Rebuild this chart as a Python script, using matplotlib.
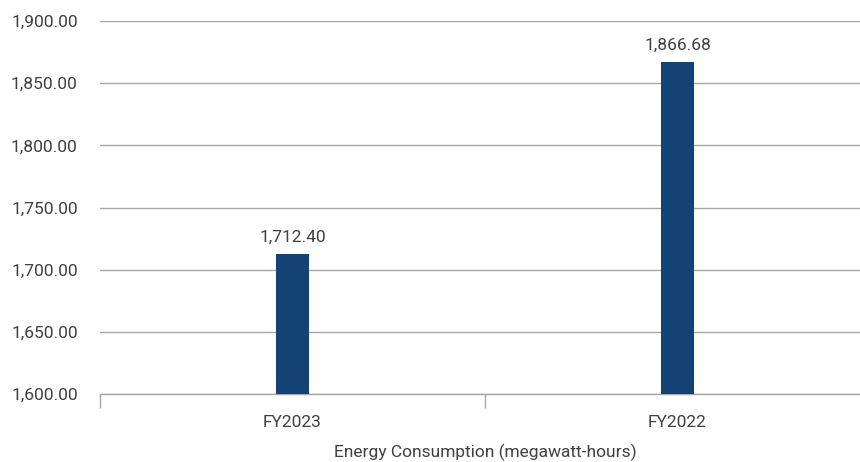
import matplotlib
matplotlib.use("Agg")
import matplotlib.pyplot as plt

categories = ["FY2023", "FY2022"]
energy_mwh = [1712.40, 1866.68]
y_ticks = [1600, 1650, 1700, 1750, 1800, 1850, 1900]

plt.rcParams["font.family"] = ["Roboto", "DejaVu Sans"]
text_color = "#404040"
grid_color = "#a6a6a6"
bar_color = "#134375"

fig = plt.figure(figsize=(8.6, 4.62), dpi=100)
ax = fig.add_axes([100 / 860, 68 / 462, 770 / 860, 373 / 462])

x = list(range(len(categories)))
bars = ax.bar(x, energy_mwh, width=0.086, color=bar_color, zorder=3)

for xi, v in zip(x, energy_mwh):
    ax.annotate("{:,.2f}".format(v), (xi, v), xytext=(0, 7), textcoords="offset points",
                ha="center", va="bottom", fontsize=12.5, color=text_color)

ax.set_xlim(-0.5, len(categories) - 0.5)
ax.set_ylim(1600, 1900)
ax.set_yticks(y_ticks)
ax.set_yticklabels(["{:,.2f}".format(t) for t in y_ticks])
ax.yaxis.grid(True, color=grid_color, linewidth=1.0, zorder=0)
ax.tick_params(axis="y", length=0, pad=16, labelsize=12.5, labelcolor=text_color)

# category ticks sit on the boundaries
ax.set_xticks([-0.5, 0.5], minor=False)
ax.set_xticklabels(["", ""])
ax.set_xticks(x, minor=True)
ax.set_xticklabels(categories, minor=True)
ax.tick_params(axis="x", which="major", length=10, width=1, color=grid_color)
ax.tick_params(axis="x", which="minor", length=0, pad=15, labelsize=12.5, labelcolor=text_color)

for s in ["top", "right", "left"]:
    ax.spines[s].set_visible(False)
ax.spines["bottom"].set_color(grid_color)
ax.spines["bottom"].set_linewidth(1.0)

ax.set_xlabel("Energy Consumption (megawatt-hours)", fontsize=12.5, color=text_color, labelpad=10)

fig.savefig("out.png", dpi=100)
